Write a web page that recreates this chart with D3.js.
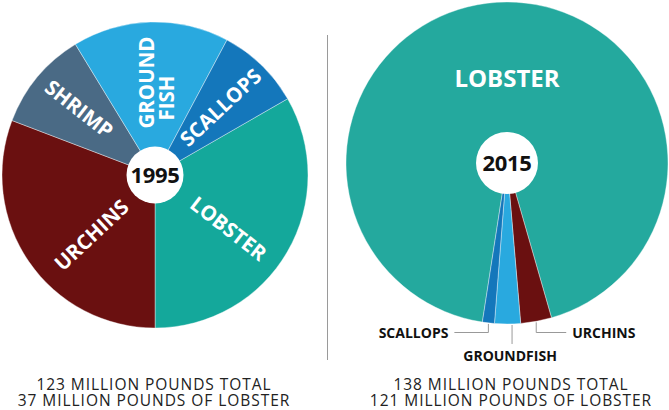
<!DOCTYPE html>
<html>
<head>
<meta charset="utf-8">
<script src="https://cdn.jsdelivr.net/npm/d3@7"></script>
<style>
  html, body { margin: 0; padding: 0; background: #fff; }
  svg { display: block; }
  text { font-family: "Open Sans", "DejaVu Sans", sans-serif; }
</style>
</head>
<body>
<svg id="chart" width="669" height="410"></svg>
<script>
// ---- data (shares of the total landings) ----
const categories = ["LOBSTER", "URCHINS", "SHRIMP", "GROUNDFISH", "SCALLOPS"];
const share1995 = [33.3, 30.8, 10.5, 16.5, 8.9];
const share2015 = [93.1, 3.1, 0, 2.6, 1.2];
const years = ["1995", "2015"];
const totalLines = ["123 MILLION POUNDS TOTAL", "138 MILLION POUNDS TOTAL"];
const lobsterLines = ["37 MILLION POUNDS OF LOBSTER", "121 MILLION POUNDS OF LOBSTER"];

// ---- styling ----
const colorScale = d3.scaleOrdinal()
  .domain(categories)
  .range(["#14a89b", "#6a1010", "#4a6a85", "#29a9df", "#1477bb"]);
const lobster2015Color = "#24a99e";

const svg = d3.select("#chart");
const deg = Math.PI / 180;

const pies = [
  { values: share1995, cx: 155, cy: 175, r: 153, hole: 28.5, start: 60.1, year: years[0] },
  { values: share2015, cx: 507, cy: 163, r: 161, hole: 31, start: 188.8, year: years[1] }
];

pies.forEach((p, pi) => {
  const rows = categories.map((c, i) => ({ cat: c, value: p.values[i] }));
  const pie = d3.pie().sort(null).value(d => d.value)
    .startAngle(p.start * deg).endAngle(p.start * deg + 2 * Math.PI);
  const arc = d3.arc().innerRadius(0).outerRadius(p.r);
  const g = svg.append("g").attr("transform", `translate(${p.cx},${p.cy})`);
  g.selectAll("path").data(pie(rows).filter(d => d.data.value > 0)).join("path")
    .attr("d", arc)
    .attr("fill", d => (pi === 1 && d.data.cat === "LOBSTER") ? lobster2015Color : colorScale(d.data.cat))
    .attr("stroke", "rgba(255,255,255,0.55)")
    .attr("stroke-width", 0.7);
  g.append("circle").attr("r", p.hole).attr("fill", "#fff");
  g.append("text").text(p.year)
    .attr("text-anchor", "middle").attr("dy", "0.36em")
    .attr("font-size", 22).attr("font-weight", 700).attr("fill", "#111")
    .attr("letter-spacing", -0.3);
  p.g = g;
  p.arcs = pie(rows);
});

// ---- in-slice labels, 1995 ----
const inLabels1995 = [
  { text: "LOBSTER", x: 73.5, y: 53.5, rot: 38 },
  { text: "URCHINS", x: -63.5, y: 60, rot: -43 },
  { text: "SHRIMP", x: -76, y: -66, rot: 38 },
  { text: "SCALLOPS", x: 65.5, y: -67.5, rot: -43 },
  { text: "GROUND", x: -8, y: -92.5, rot: -90 },
  { text: "FISH", x: 12, y: -77, rot: -90 }
];
pies[0].g.selectAll("text.lab").data(inLabels1995).join("text")
  .attr("class", "lab")
  .attr("transform", d => `translate(${d.x},${d.y}) rotate(${d.rot})`)
  .attr("text-anchor", "middle").attr("dy", "0.36em")
  .attr("font-size", 20.5).attr("font-weight", 700).attr("fill", "#fff")
  .text(d => d.text);

// ---- 2015 lobster label ----
pies[1].g.append("text").text("LOBSTER")
  .attr("x", 0).attr("y", -76)
  .attr("text-anchor", "middle")
  .attr("font-size", 24).attr("font-weight", 700).attr("fill", "#fff");

// ---- 2015 callouts ----
const lineColor = "#999";
const g2 = pies[1].g;
const byCat = {};
pies[1].arcs.forEach(a => byCat[a.data.cat] = a);
function edgePoint(a, dx) {
  const mid = (a.startAngle + a.endAngle) / 2;
  const pt = d3.pointRadial(mid, pies[1].r);
  return [pt[0] + (dx || 0), pt[1]];
}
const sc = edgePoint(byCat["SCALLOPS"]);
const gf = edgePoint(byCat["GROUNDFISH"], 4.5);
const ur = edgePoint(byCat["URCHINS"]);
const yRow = 169.5;
const leaders = [
  [[sc[0], sc[1] + 1], [sc[0], yRow], [sc[0] - 34, yRow]],
  [[gf[0], gf[1] + 1], [gf[0], gf[1] + 20]],
  [[ur[0], ur[1] + 1], [ur[0], yRow], [ur[0] + 30, yRow]]
];
g2.selectAll("path.leader").data(leaders).join("path")
  .attr("class", "leader")
  .attr("d", d3.line())
  .attr("fill", "none").attr("stroke", lineColor).attr("stroke-width", 1);
const callouts = [
  { text: "SCALLOPS", x: sc[0] - 40, y: yRow, anchor: "end" },
  { text: "GROUNDFISH", x: gf[0] - 2, y: 192.5, anchor: "middle" },
  { text: "URCHINS", x: ur[0] + 36, y: yRow, anchor: "start" }
];
g2.selectAll("text.call").data(callouts).join("text")
  .attr("class", "call")
  .attr("x", d => d.x).attr("y", d => d.y).attr("dy", "0.36em")
  .attr("text-anchor", d => d.anchor)
  .attr("font-size", 14).attr("font-weight", 700).attr("fill", "#111")
  .text(d => d.text);

// ---- divider ----
svg.append("line").attr("x1", 327.5).attr("x2", 327.5).attr("y1", 35).attr("y2", 360)
  .attr("stroke", "#9a9a9a").attr("stroke-width", 1);

// ---- bottom captions (two-line text blocks) ----
const capX = [154, 511];
[0, 1].forEach(i => {
  const t = svg.append("text")
    .attr("text-anchor", "middle")
    .attr("font-size", 15.5).attr("letter-spacing", 0.95).attr("fill", "#222");
  t.append("tspan").attr("x", capX[i]).attr("y", 390).text(totalLines[i]);
  t.append("tspan").attr("x", capX[i]).attr("y", 406).text(lobsterLines[i]);
});
</script>
</body>
</html>
